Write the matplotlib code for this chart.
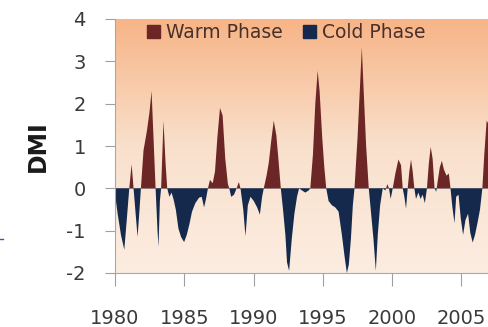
import numpy as np
import matplotlib
matplotlib.use("Agg")
import matplotlib.pyplot as plt
from matplotlib.patches import Patch
from matplotlib.colors import LinearSegmentedColormap
from matplotlib.lines import Line2D

plt.rcParams['font.family'] = ['DejaVu Sans']
plt.rcParams['axes.unicode_minus'] = False

# Dipole Mode Index (decimal year, value)
years = [1980.00, 1980.07, 1980.19, 1980.43, 1980.67, 1980.86, 1981.03, 1981.20, 1981.34,
         1981.49, 1981.63, 1981.77, 1981.87, 1982.06, 1982.30, 1982.49, 1982.64, 1982.78,
         1982.93, 1983.07, 1983.14, 1983.24, 1983.33, 1983.50, 1983.65, 1983.77, 1983.93,
         1984.08, 1984.22, 1984.39, 1984.58, 1984.77, 1984.99, 1985.18, 1985.37, 1985.56,
         1985.80, 1986.07, 1986.26, 1986.43, 1986.57, 1986.71, 1986.86, 1987.05, 1987.22,
         1987.39, 1987.58, 1987.77, 1987.96, 1988.15, 1988.25, 1988.39, 1988.59, 1988.78,
         1988.94, 1989.06, 1989.26, 1989.42, 1989.59, 1989.78, 1990.02, 1990.26, 1990.46,
         1990.62, 1990.74, 1990.94, 1991.10, 1991.27, 1991.46, 1991.65, 1991.82, 1991.97,
         1992.13, 1992.30, 1992.42, 1992.57, 1992.76, 1992.95, 1993.14, 1993.29, 1993.50,
         1993.74, 1993.98, 1994.10, 1994.29, 1994.46, 1994.63, 1994.77, 1994.96, 1995.11,
         1995.25, 1995.42, 1995.66, 1995.90, 1996.14, 1996.38, 1996.57, 1996.74, 1996.88,
         1997.03, 1997.17, 1997.29, 1997.51, 1997.70, 1997.82, 1997.94, 1998.13, 1998.32,
         1998.49, 1998.66, 1998.83, 1998.97, 1999.14, 1999.33, 1999.52, 1999.66, 1999.78,
         1999.90, 2000.05, 2000.24, 2000.46, 2000.65, 2000.77, 2000.89, 2001.01, 2001.13,
         2001.25, 2001.37, 2001.49, 2001.61, 2001.73, 2001.90, 2002.06, 2002.21, 2002.37,
         2002.52, 2002.66, 2002.79, 2002.93, 2003.07, 2003.19, 2003.31, 2003.45, 2003.60,
         2003.74, 2003.93, 2004.10, 2004.22, 2004.36, 2004.51, 2004.63, 2004.80, 2004.96,
         2005.13, 2005.30, 2005.49, 2005.65, 2005.82, 2005.99, 2006.18, 2006.35, 2006.52,
         2006.66, 2006.83, 2007.00]
dmi = [0.0, -0.3, -0.6, -1.1, -1.45, -0.7, 0.0, 0.57, 0.0,
       -0.6, -1.15, -0.5, 0.0, 0.9, 1.35, 1.8, 2.3, 1.2,
       0.0, -1.0, -1.38, -0.3, 0.0, 1.6, 0.6, 0.0, -0.2,
       -0.1, -0.25, -0.5, -0.95, -1.15, -1.27, -1.1, -0.85, -0.55,
       -0.35, -0.22, -0.2, -0.45, -0.25, 0.0, 0.2, 0.12, 0.4,
       1.2, 1.9, 1.72, 0.7, 0.1, 0.0, -0.2, -0.15, 0.0,
       0.15, 0.0, -0.5, -1.13, -0.4, -0.2, -0.3, -0.45, -0.62,
       -0.2, 0.0, 0.3, 0.6, 1.1, 1.6, 1.25, 0.6, 0.0,
       -0.5, -1.1, -1.75, -1.95, -1.2, -0.6, -0.2, 0.0, -0.05,
       -0.1, -0.05, 0.0, 0.8, 2.0, 2.78, 2.3, 1.2, 0.5,
       0.0, -0.3, -0.4, -0.45, -0.55, -1.1, -1.6, -2.0, -1.8,
       -1.2, -0.4, 0.0, 1.2, 2.5, 3.33, 2.4, 1.0, 0.0,
       -0.6, -1.2, -1.95, -1.1, -0.4, 0.0, -0.05, 0.1, 0.0,
       -0.25, 0.0, 0.35, 0.68, 0.55, 0.0, -0.2, -0.48, 0.0,
       0.4, 0.68, 0.4, 0.0, -0.25, -0.1, -0.25, -0.15, -0.35,
       0.0, 0.6, 0.98, 0.7, 0.0, -0.08, 0.2, 0.5, 0.65,
       0.45, 0.3, 0.35, 0.0, -0.45, -0.82, -0.2, -0.15, -0.7,
       -1.1, -0.75, -0.6, -1.05, -1.28, -1.1, -0.8, -0.5, 0.0,
       0.8, 1.6, 1.5]

xticks = [1980, 1985, 1990, 1995, 2000, 2005]
yticks = [-2, -1, 0, 1, 2, 3, 4]

warm = '#6c2626'
cold = '#14294b'

fig = plt.figure(figsize=(4.89, 3.27), dpi=100)
ax = fig.add_axes([115 / 489, 1 - 273 / 327, 1 - 115 / 489, (273 - 19) / 327])
ax.set_xlim(1980, 2007)
ax.set_ylim(-2, 4)

# orange-to-cream gradient background
cmap = LinearSegmentedColormap.from_list('bg', ['#fcede1', '#f9e0cc', '#f7b487'])
grad = np.linspace(0, 1, 256).reshape(-1, 1)
ax.imshow(grad, extent=[1980, 2007, -2, 4], origin='lower', aspect='auto',
          cmap=cmap, zorder=0)

x = np.array(years)
y = np.array(dmi)
ax.fill_between(x, 0, y, where=y >= 0, interpolate=True, color=warm, lw=0, zorder=2)
ax.fill_between(x, 0, y, where=y <= 0, interpolate=True, color=cold, lw=0, zorder=2)
ax.axhline(0, color='#9a9a9a', lw=0.6, zorder=1)

ax.set_xticks(xticks)
ax.set_yticks(yticks)
ax.tick_params(axis='x', direction='out', length=9, width=0.8, color='#a0a0a0',
               labelsize=14, labelcolor='#3a3a3a', pad=17)
ax.tick_params(axis='y', direction='out', length=7, width=0.8, color='#a0a0a0',
               labelsize=14, labelcolor='#3a3a3a', pad=14)
for s in ['top', 'right']:
    ax.spines[s].set_visible(False)
for s in ['left', 'bottom']:
    ax.spines[s].set_color('#a8a8a8')
    ax.spines[s].set_linewidth(0.8)

ax.set_ylabel('DMI', fontsize=17, fontweight='bold', color='#1a1a1a', labelpad=12)

handles = [Patch(color=warm, label='Warm Phase'), Patch(color=cold, label='Cold Phase')]
leg = ax.legend(handles=handles, ncol=2, frameon=False, loc='upper left',
                bbox_to_anchor=(0.086, 0.985), borderaxespad=0, borderpad=0,
                fontsize=13.5, handlelength=0.7, handleheight=0.7,
                handletextpad=0.3, columnspacing=1.1)
for t in leg.get_texts():
    t.set_color('#4a3028')

# small stray mark at the left edge of the original image
fig.add_artist(Line2D([0, 3 / 489], [1 - 239 / 327] * 2, color='#2f5fb0', lw=1))

fig.savefig('out.png', dpi=100)
